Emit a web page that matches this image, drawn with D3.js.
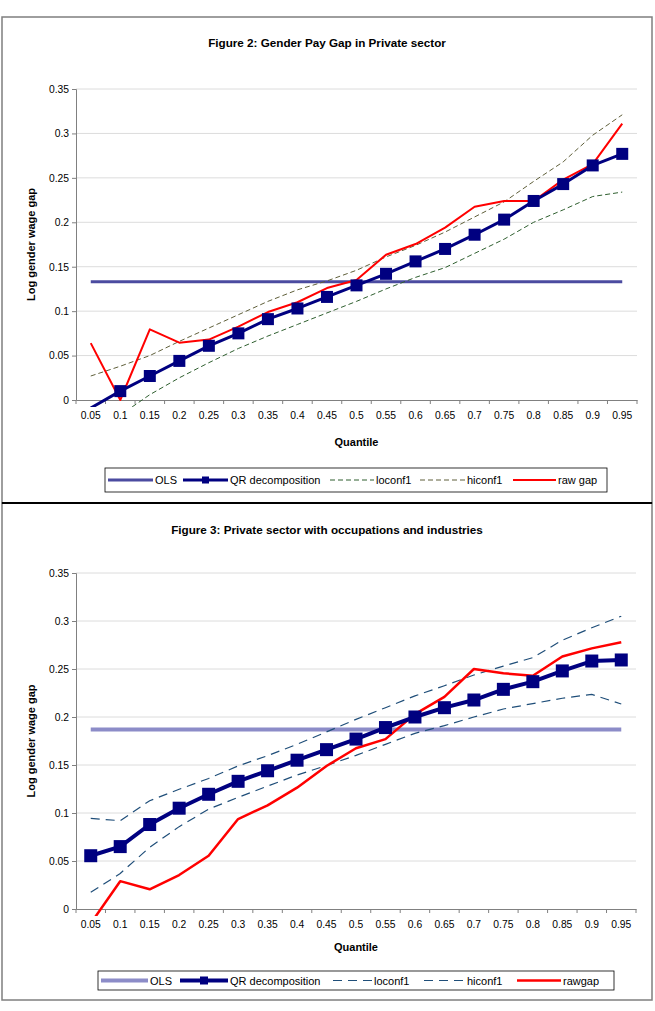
<!DOCTYPE html>
<html>
<head>
<meta charset="utf-8">
<script src="https://cdn.jsdelivr.net/npm/d3@7"></script>
<style>
  body { margin: 0; background: #fff; }
  svg text { font-family: "Liberation Sans", Arial, sans-serif; fill: #000; }
</style>
</head>
<body>
<div id="chart"></div>
<script>
const quantiles = ["0.05","0.1","0.15","0.2","0.25","0.3","0.35","0.4","0.45","0.5","0.55","0.6","0.65","0.7","0.75","0.8","0.85","0.9","0.95"]
const yTicks = [0, 0.05, 0.1, 0.15, 0.2, 0.25, 0.3, 0.35]

// figure 2
const olsPriv = 0.133
const qrPriv = [-0.009,0.010,0.027,0.044,0.061,0.075,0.091,0.103,0.116,0.129,0.142,0.156,0.170,0.186,0.203,0.224,0.243,0.264,0.277]
const loPriv = [-0.035,-0.017,0.006,0.025,0.042,0.058,0.072,0.085,0.098,0.111,0.125,0.138,0.149,0.165,0.181,0.200,0.214,0.229,0.234]
const hiPriv = [0.027,0.038,0.050,0.066,0.081,0.096,0.111,0.124,0.134,0.146,0.161,0.174,0.189,0.206,0.223,0.246,0.268,0.298,0.321]
const rawPriv = [0.064,0.000,0.0795,0.0645,0.068,0.0825,0.099,0.110,0.126,0.135,0.1635,0.1755,0.194,0.2175,0.224,0.224,0.248,0.2655,0.311]

// figure 3
const olsOcc = 0.187
const qrOcc = [0.0555,0.065,0.088,0.105,0.1195,0.133,0.144,0.155,0.166,0.177,0.189,0.200,0.2097,0.2177,0.2288,0.2368,0.248,0.2583,0.2594]
const loOcc = [0.0174,0.037,0.0643,0.0858,0.104,0.1163,0.128,0.1396,0.1495,0.160,0.1715,0.183,0.191,0.200,0.2083,0.214,0.2195,0.2236,0.2135]
const hiOcc = [0.0944,0.092,0.1128,0.1247,0.136,0.149,0.1597,0.1715,0.1845,0.1975,0.2097,0.222,0.2326,0.2437,0.253,0.2618,0.280,0.293,0.305]
const rawOcc = [-0.015,0.029,0.0205,0.0354,0.0555,0.0937,0.108,0.1264,0.149,0.1674,0.177,0.203,0.221,0.250,0.2455,0.243,0.263,0.2715,0.2778]

const svg = d3.select("#chart").append("svg")
    .attr("width", 655)
    .attr("height", 1011)

function drawChart(cfg) {
  let g = svg.append("g")

  g.append("rect")
    .attr("x", cfg.box.x).attr("y", cfg.box.y)
    .attr("width", cfg.box.w).attr("height", cfg.box.h)
    .attr("fill", "#fff").attr("stroke", "#7f7f7f").attr("stroke-width", 1.5)

  g.append("text")
    .attr("x", cfg.box.x + cfg.box.w/2).attr("y", cfg.titleY)
    .attr("text-anchor", "middle")
    .style("font-size", "11.7px").style("font-weight", "bold")
    .style("letter-spacing", cfg.titleSpacing)
    .text(cfg.title)

  let p = cfg.plot
  let x = d3.scaleBand().domain(quantiles).range([p.left, p.right])
  let y = d3.scaleLinear().domain([0, 0.35]).range([p.bottom, p.top])
  let cx = d => x(d) + x.bandwidth()/2

  // gridlines
  g.append("g").selectAll("line")
    .data(yTicks.slice(1))
    .join("line")
    .attr("x1", p.left).attr("x2", p.right)
    .attr("y1", d => y(d)).attr("y2", d => y(d))
    .attr("stroke", "#dcdcdc").attr("stroke-width", 1)

  let yAxis = d3.axisLeft(y).tickValues(yTicks).tickSize(4).tickPadding(3).tickFormat(d => String(d))
  let ya = g.append("g").attr("transform", `translate(${p.left},0)`).call(yAxis)
  ya.select(".domain").attr("stroke", "#808080")
  ya.selectAll(".tick line").attr("stroke", "#808080")
  ya.selectAll("text").style("font-size", "10.3px").attr("fill", "#000")

  let xAxis = d3.axisBottom(x).tickSize(0).tickPadding(12)
  let xa = g.append("g").attr("transform", `translate(0,${p.bottom})`).call(xAxis)
  xa.select(".domain").attr("stroke", "#808080")
  xa.selectAll("text").style("font-size", "10.3px").attr("fill", "#000")
  // category boundary ticks
  xa.append("g").selectAll("line")
    .data(quantiles.concat(["end"]))
    .join("line")
    .attr("x1", d => d == "end" ? p.right : x(d))
    .attr("x2", d => d == "end" ? p.right : x(d))
    .attr("y1", 0).attr("y2", 4)
    .attr("stroke", "#808080")

  g.append("text")
    .attr("x", (p.left + p.right)/2).attr("y", cfg.xTitleY)
    .attr("text-anchor", "middle")
    .style("font-size", "11px").style("font-weight", "bold")
    .text("Quantile")

  g.append("text")
    .attr("transform", `translate(${cfg.yTitleX},${(p.top + p.bottom)/2}) rotate(-90)`)
    .attr("text-anchor", "middle")
    .style("font-size", "11px").style("font-weight", "bold")
    .text("Log gender wage gap")

  let clipId = "clip" + cfg.id
  g.append("clipPath").attr("id", clipId)
    .append("rect")
    .attr("x", p.left).attr("y", p.top)
    .attr("width", p.right - p.left).attr("height", p.bottom - p.top + 7)

  let plot = g.append("g").attr("clip-path", `url(#${clipId})`)
  let line = d3.line().x((d, i) => cx(quantiles[i])).y(d => y(d))

  let s = cfg.styles
  plot.append("line")
    .attr("x1", cx(quantiles[0])).attr("x2", cx(quantiles[quantiles.length-1]))
    .attr("y1", y(cfg.ols)).attr("y2", y(cfg.ols))
    .attr("stroke", s.ols.color).attr("stroke-width", s.ols.width)

  plot.append("path").datum(cfg.lo).attr("d", line)
    .attr("fill", "none").attr("stroke", s.lo.color).attr("stroke-width", s.lo.width)
    .attr("stroke-dasharray", s.lo.dash)
  plot.append("path").datum(cfg.hi).attr("d", line)
    .attr("fill", "none").attr("stroke", s.hi.color).attr("stroke-width", s.hi.width)
    .attr("stroke-dasharray", s.hi.dash)

  plot.append("path").datum(cfg.raw).attr("d", line)
    .attr("fill", "none").attr("stroke", s.raw.color).attr("stroke-width", s.raw.width)
    .attr("stroke-linejoin", "round")

  plot.append("path").datum(cfg.qr).attr("d", line)
    .attr("fill", "none").attr("stroke", s.qr.color).attr("stroke-width", s.qr.width)
    .attr("stroke-linejoin", "round")

  let m = s.qr.marker
  plot.append("g").selectAll("rect")
    .data(cfg.qr.map((v, i) => ({v: v, q: quantiles[i]})).filter(d => d.v >= 0))
    .join("rect")
    .attr("x", d => cx(d.q) - m/2).attr("y", d => y(d.v) - m/2)
    .attr("width", m).attr("height", m)
    .attr("fill", s.qr.color)

  // legend
  let L = cfg.legend
  let lg = g.append("g")
  lg.append("rect")
    .attr("x", L.x).attr("y", L.y).attr("width", L.w).attr("height", L.h)
    .attr("fill", "#fff").attr("stroke", "#000").attr("stroke-width", 0.8)
  let ly = L.y + L.h/2
  L.items.forEach(it => {
    let st = s[it.key]
    lg.append("line")
      .attr("x1", it.x0).attr("x2", it.x1)
      .attr("y1", ly).attr("y2", ly)
      .attr("stroke", st.color).attr("stroke-width", st.width)
      .attr("stroke-dasharray", st.dash || null)
    if (it.key == "qr") {
      lg.append("rect")
        .attr("x", (it.x0 + it.x1)/2 - st.legendMarker/2).attr("y", ly - st.legendMarker/2)
        .attr("width", st.legendMarker).attr("height", st.legendMarker)
        .attr("fill", st.color)
    }
    lg.append("text")
      .attr("x", it.x1 + 2).attr("y", ly + 4)
      .style("font-size", "11px")
      .text(it.label)
  })
}

drawChart({
  id: "a",
  box: {x: 2, y: 17, w: 650, h: 486},
  title: "Figure 2: Gender Pay Gap in Private sector",
  titleSpacing: "0px",
  titleY: 47,
  plot: {left: 76, right: 637, top: 89, bottom: 400},
  xTitleY: 446,
  yTitleX: 35,
  ols: olsPriv, qr: qrPriv, lo: loPriv, hi: hiPriv, raw: rawPriv,
  styles: {
    ols: {color: "#4b4ba0", width: 3},
    qr: {color: "#000080", width: 3, marker: 12, legendMarker: 7},
    lo: {color: "#2f5f2f", width: 1, dash: "5,3"},
    hi: {color: "#5f5f3a", width: 1, dash: "5,3"},
    raw: {color: "#ff0000", width: 2}
  },
  legend: {
    x: 105, y: 468, w: 502, h: 24,
    items: [
      {key: "ols", label: "OLS", x0: 108, x1: 153},
      {key: "qr", label: "QR decomposition", x0: 183, x1: 228},
      {key: "lo", label: "loconf1", x0: 330, x1: 374},
      {key: "hi", label: "hiconf1", x0: 420, x1: 465},
      {key: "raw", label: "raw gap", x0: 513, x1: 556}
    ]
  }
})

drawChart({
  id: "b",
  box: {x: 2, y: 503, w: 650, h: 497},
  title: "Figure 3: Private sector with occupations and industries",
  titleSpacing: "0px",
  titleY: 534,
  plot: {left: 76, right: 636, top: 573, bottom: 909},
  xTitleY: 951,
  yTitleX: 35,
  ols: olsOcc, qr: qrOcc, lo: loOcc, hi: hiOcc, raw: rawOcc,
  styles: {
    ols: {color: "#8c8cc8", width: 4},
    qr: {color: "#000080", width: 4, marker: 13, legendMarker: 8},
    lo: {color: "#1f4e79", width: 1.2, dash: "9,6"},
    hi: {color: "#1f4e79", width: 1.2, dash: "9,6"},
    raw: {color: "#ff0000", width: 2.5}
  },
  legend: {
    x: 98, y: 971, w: 516, h: 19,
    items: [
      {key: "ols", label: "OLS", x0: 101, x1: 148},
      {key: "qr", label: "QR decomposition", x0: 180, x1: 228},
      {key: "lo", label: "loconf1", x0: 333, x1: 372},
      {key: "hi", label: "hiconf1", x0: 424, x1: 465},
      {key: "raw", label: "rawgap", x0: 517, x1: 561}
    ]
  }
})

// shared black edge between the two panels
svg.append("line")
  .attr("x1", 2).attr("x2", 652).attr("y1", 503).attr("y2", 503)
  .attr("stroke", "#000").attr("stroke-width", 2)
</script>
</body>
</html>
